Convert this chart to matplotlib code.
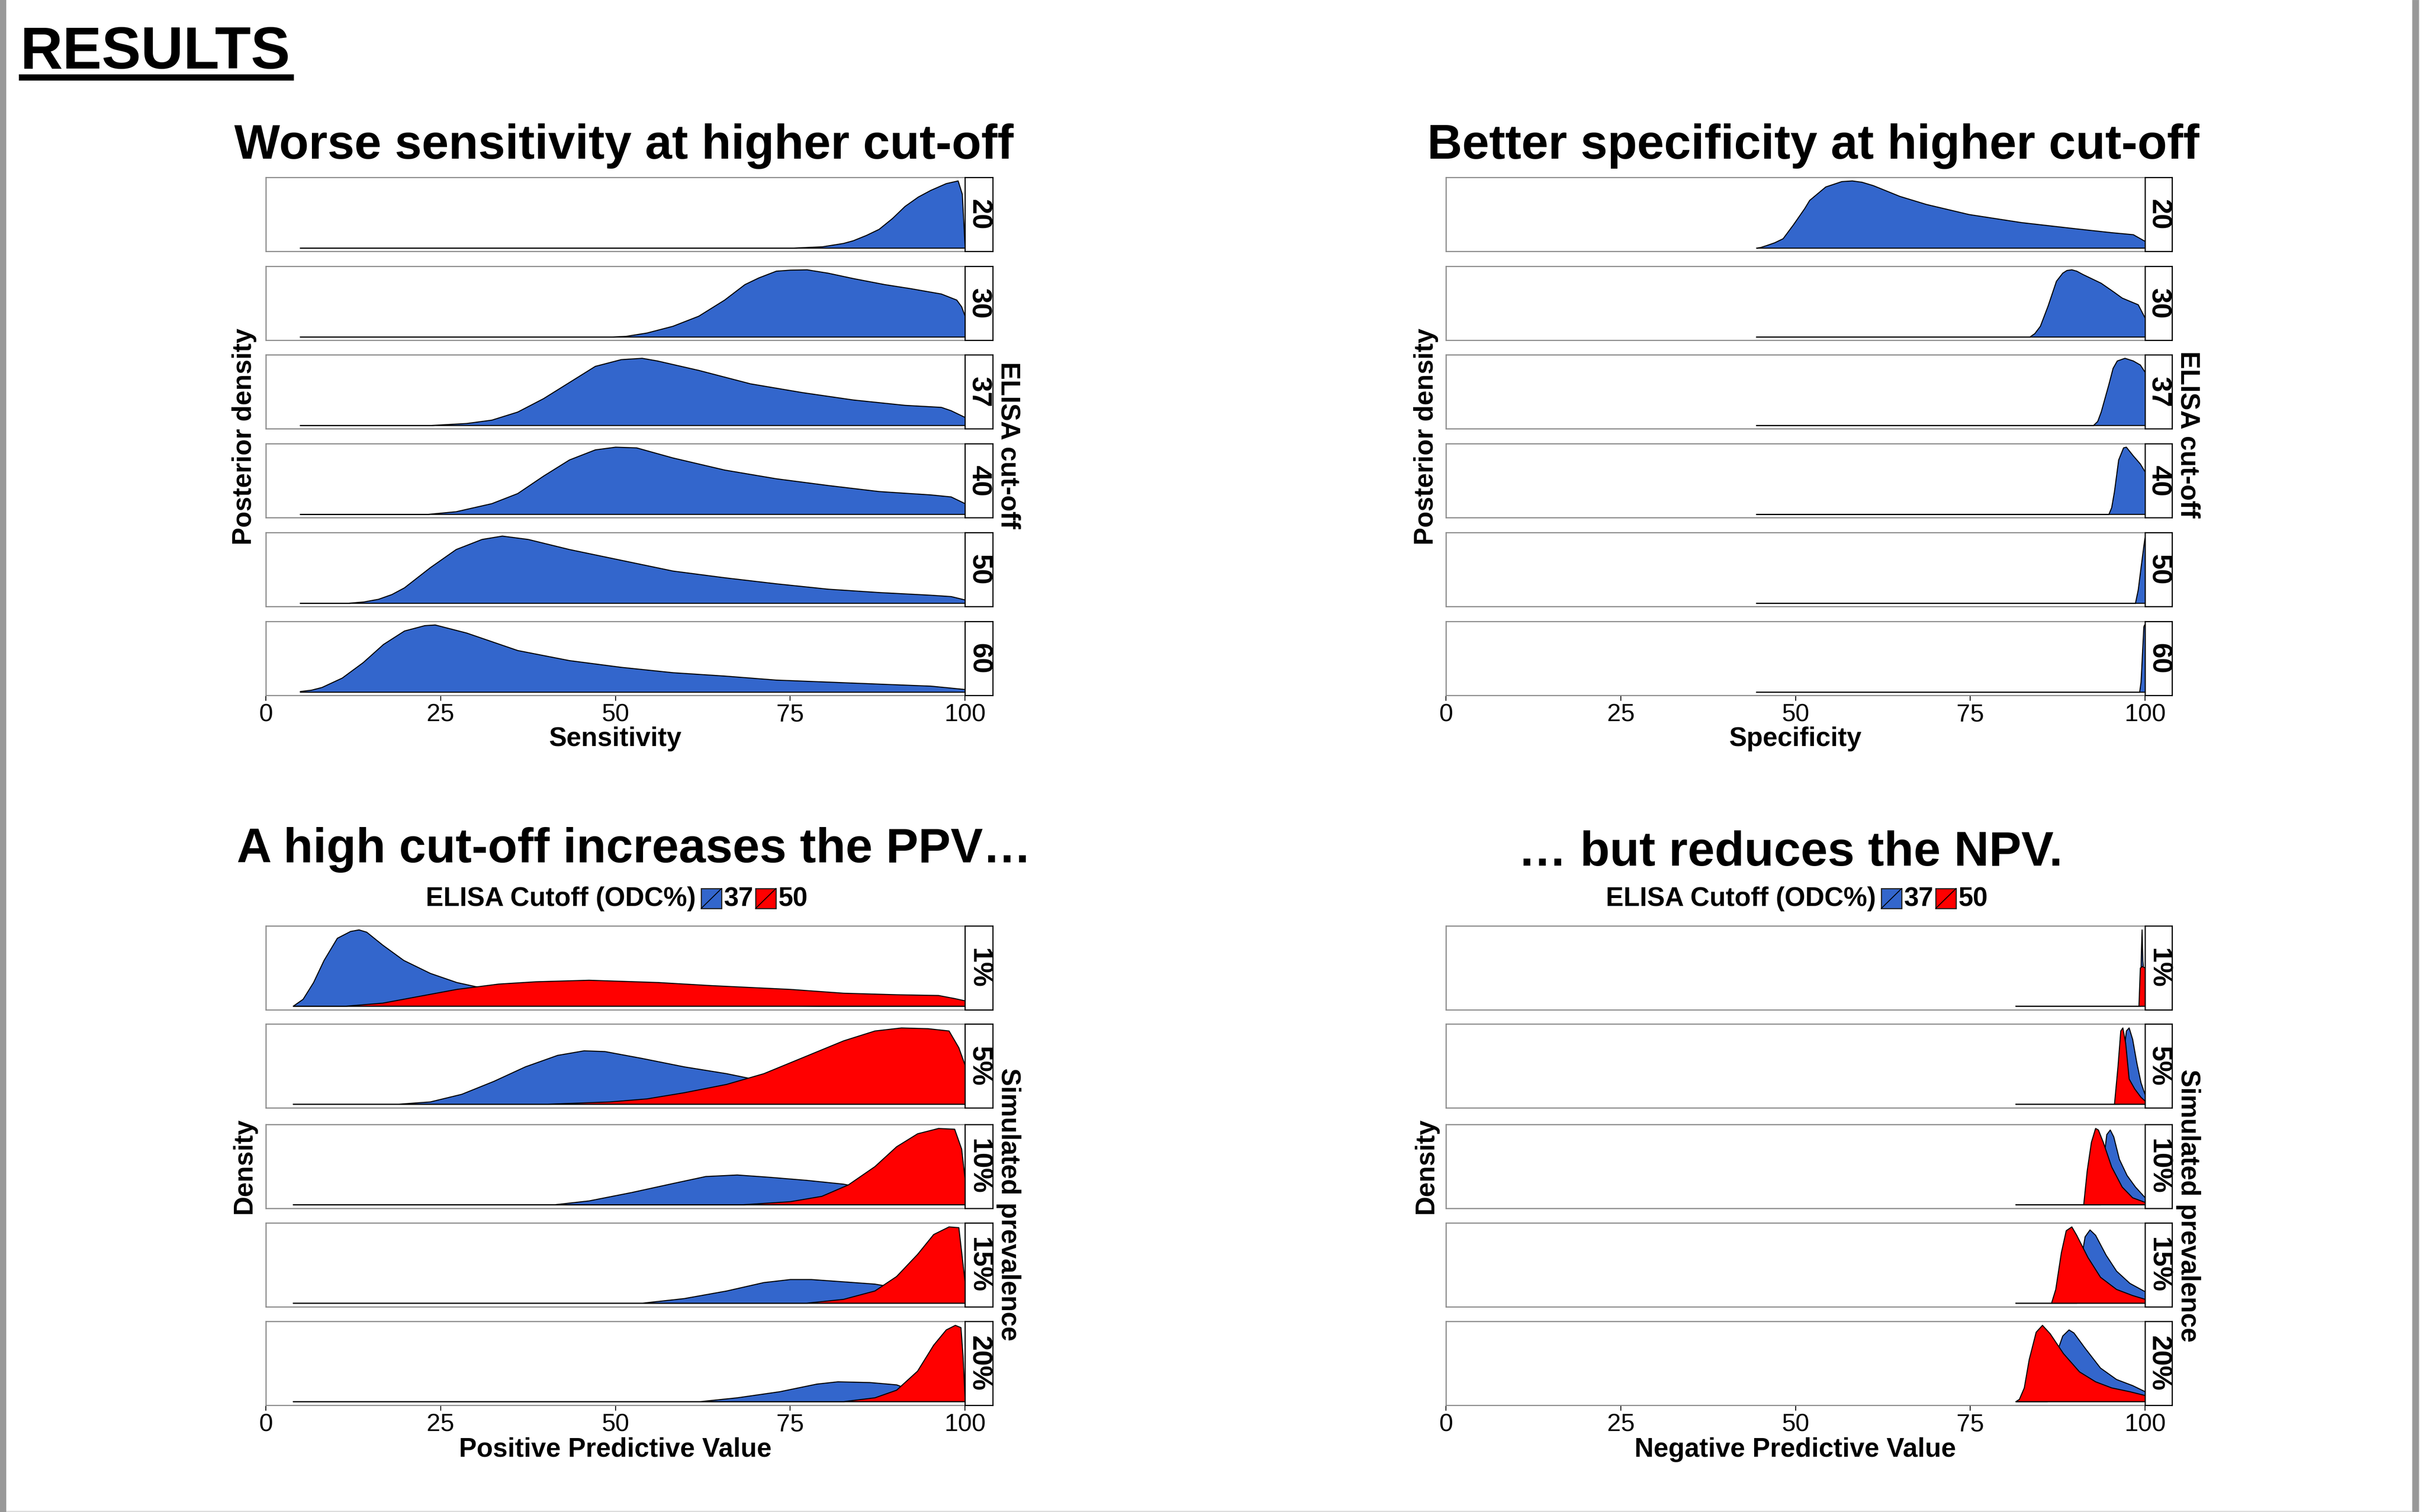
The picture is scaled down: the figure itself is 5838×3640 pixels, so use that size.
"""
Posterior / simulated density panels for ELISA cut-offs (sens, spec, PPV, NPV).
Recreated as one matplotlib figure, saved to out.png.
"""

import matplotlib
matplotlib.use('Agg')
import matplotlib.pyplot as plt
from matplotlib.patches import Rectangle
from matplotlib.lines import Line2D

plt.rcParams['font.family'] = ['Liberation Sans', 'DejaVu Sans']

W, H = 5838, 3641
DPI = 200

BLUE = '#3366CC'
RED = '#FF0000'
PANEL_EDGE = '#8C8C8C'

cutoffs = ['20', '30', '37', '40', '50', '60']
prevalences = ['1%', '5%', '10%', '15%', '20%']
x_ticks = [0, 25, 50, 75, 100]
legend_labels = ['37', '50']

# --- sensitivity posterior by cut-off: (value %, relative density)
sens_20 = [(4.9, 0), (75.2, 0), (79.6, 0.02), (82.6, 0.07), (84, 0.11), (85.9, 0.19), (87.7, 0.28),
           (89.6, 0.44), (91.4, 0.62), (93.3, 0.76), (95.1, 0.86), (97.3, 0.96), (99, 1.0),
           (99.6, 0.8), (100, 0)]
sens_30 = [(4.9, 0), (49.3, 0), (51.5, 0.01), (54.5, 0.06), (58.2, 0.16), (61.9, 0.31), (65.6, 0.55),
           (68.5, 0.78), (70.5, 0.88), (73, 0.98), (75, 0.995), (77.4, 1.0), (80.4, 0.95), (84, 0.87),
           (88.5, 0.78), (92.2, 0.72), (96.6, 0.64), (98.8, 0.55), (99.5, 0.45), (100, 0.31)]
sens_37 = [(4.9, 0), (23.5, 0), (28.7, 0.03), (32.3, 0.08), (36, 0.2), (39.7, 0.4), (43.4, 0.64),
           (47.1, 0.88), (50.8, 0.98), (53.8, 1.0), (56, 0.96), (61.9, 0.82), (69.3, 0.62),
           (76.7, 0.49), (84, 0.38), (91.4, 0.3), (96.6, 0.27), (98, 0.22), (100, 0.12)]
sens_40 = [(4.9, 0), (23.1, 0), (27.2, 0.04), (32.3, 0.16), (36, 0.31), (39.7, 0.57), (43.4, 0.81),
           (47.1, 0.96), (50, 1.0), (53, 0.99), (58.2, 0.84), (65.6, 0.66), (73, 0.53), (80.4, 0.43),
           (87.7, 0.34), (95.1, 0.29), (98, 0.26), (100, 0.16)]
sens_50 = [(4.9, 0), (11.7, 0), (14, 0.02), (16.1, 0.06), (18, 0.13), (19.8, 0.23), (23.5, 0.53),
           (27.2, 0.8), (30.9, 0.95), (33.8, 1.0), (37.5, 0.95), (43.4, 0.8), (50.8, 0.64),
           (58.2, 0.48), (65.6, 0.38), (73, 0.29), (80.4, 0.21), (87.7, 0.16), (95.1, 0.12),
           (98, 0.1), (100, 0.05)]
sens_60 = [(4.9, 0.01), (6.5, 0.03), (8, 0.07), (10.9, 0.21), (13.9, 0.44), (16.8, 0.71), (19.8, 0.91),
           (22.7, 0.99), (24.2, 1.0), (28.7, 0.88), (36, 0.62), (43.4, 0.47), (50.8, 0.37),
           (58.2, 0.29), (65.6, 0.24), (73, 0.18), (80.4, 0.15), (87.7, 0.12), (95.1, 0.09),
           (100, 0.04)]

# --- specificity posterior by cut-off
spec_20 = [(44.4, 0), (45, 0.01), (45.9, 0.04), (47, 0.08), (48.2, 0.14), (49.7, 0.35), (51.3, 0.59),
           (52, 0.71), (54.3, 0.91), (56.6, 0.99), (58.1, 1.0), (59.5, 0.98), (61.1, 0.93),
           (64.9, 0.77), (68.7, 0.65), (74.8, 0.5), (82.3, 0.38), (89.9, 0.29), (95.2, 0.23),
           (98.3, 0.2), (100, 0.1)]
spec_30 = [(44.4, 0), (83.5, 0), (84.2, 0.05), (85, 0.16), (86.1, 0.46), (87.3, 0.83), (88.2, 0.95),
           (88.8, 0.99), (89.5, 1.0), (90.2, 0.98), (91.1, 0.93), (93.7, 0.8), (95.5, 0.67),
           (96.7, 0.58), (99, 0.48), (100, 0.28)]
spec_37 = [(44.4, 0), (92.6, 0), (93.2, 0.06), (93.7, 0.2), (94.8, 0.61), (95.4, 0.85), (96, 0.96),
           (97.1, 1.0), (98.3, 0.96), (99.3, 0.9), (100, 0.79)]
spec_40 = [(44.4, 0), (94.8, 0), (95.2, 0.1), (95.6, 0.34), (96.2, 0.81), (96.9, 0.99), (97.3, 1.0),
           (98.3, 0.87), (99.3, 0.75), (100, 0.63)]
spec_50 = [(44.4, 0), (98.6, 0), (99, 0.2), (99.4, 0.53), (99.8, 0.85), (100, 1.0)]
spec_60 = [(44.4, 0), (99.2, 0), (99.4, 0.15), (99.6, 0.56), (99.8, 0.97), (99.9, 1.0), (100, 0.98)]

# --- PPV by simulated prevalence, cut-off 37 (blue) and 50 (red)
ppv37_1 = [(3.9, 0), (5.3, 0.09), (6.8, 0.31), (8.3, 0.6), (10.2, 0.89), (12.1, 0.98), (13.3, 1.0),
           (14.4, 0.97), (16.7, 0.8), (19.7, 0.6), (23.5, 0.43), (27.3, 0.31), (30.3, 0.25),
           (34.1, 0.17), (38.6, 0.11), (44.7, 0.07), (52.3, 0.04), (59.8, 0.02), (67.4, 0.01),
           (80, 0), (100, 0)]
ppv50_1 = [(3.9, 0), (11.4, 0), (16.7, 0.04), (22, 0.13), (27.3, 0.22), (33.3, 0.29), (38.6, 0.32),
           (46.2, 0.34), (56.1, 0.31), (63.6, 0.27), (75, 0.22), (82.6, 0.17), (90.2, 0.15),
           (96.2, 0.14), (98.5, 0.1), (100, 0.07)]
ppv37_5 = [(3.9, 0), (18.9, 0), (23.5, 0.03), (28, 0.13), (32.6, 0.3), (37.1, 0.49), (41.7, 0.64),
           (45.5, 0.7), (48.5, 0.69), (53.8, 0.6), (59.8, 0.49), (65.9, 0.4), (71.2, 0.3),
           (76.5, 0.2), (82.6, 0.1), (88.6, 0.05), (93.9, 0.02), (100, 0)]
ppv50_5 = [(3.9, 0), (40.2, 0), (49.2, 0.03), (54.5, 0.07), (59.8, 0.15), (65.9, 0.26), (71.2, 0.4),
           (77.3, 0.63), (82.6, 0.83), (87.1, 0.96), (90.9, 1.0), (94.7, 0.99), (97.7, 0.96),
           (99.1, 0.74), (100, 0.51)]
ppv37_10 = [(3.9, 0), (41.3, 0), (46.2, 0.05), (52.3, 0.16), (58.3, 0.28), (62.9, 0.37), (67.4, 0.39),
            (72, 0.36), (77.3, 0.32), (82.6, 0.27), (88.6, 0.16), (93.9, 0.05), (100, 0)]
ppv50_10 = [(3.9, 0), (68.2, 0), (75, 0.04), (79.5, 0.11), (83.3, 0.26), (87.1, 0.5), (90.2, 0.76),
            (93.2, 0.93), (96.2, 1.0), (98.5, 0.99), (99.5, 0.73), (100, 0.33)]
ppv37_15 = [(3.9, 0), (53.8, 0), (59.8, 0.06), (65.9, 0.16), (71.2, 0.27), (75, 0.31), (78, 0.31),
            (82.6, 0.28), (87.1, 0.25), (89, 0.22), (91.7, 0.12), (96.2, 0.02), (100, 0)]
ppv50_15 = [(3.9, 0), (77.3, 0), (82.6, 0.05), (87.1, 0.16), (90.2, 0.35), (93.2, 0.64), (95.5, 0.9),
            (97.7, 1.0), (99.1, 0.99), (100, 0.27)]
ppv37_20 = [(3.9, 0), (62.1, 0), (67.4, 0.05), (73.5, 0.13), (78.8, 0.23), (81.8, 0.26), (86.4, 0.25),
            (90.2, 0.22), (93.2, 0.12), (97, 0.03), (100, 0)]
ppv50_20 = [(3.9, 0), (82.6, 0), (87.1, 0.05), (90.2, 0.15), (93.2, 0.4), (95.5, 0.74), (97.3, 0.94),
            (98.6, 1.0), (99.4, 0.97), (99.7, 0.6), (100, 0.02)]

# --- NPV by simulated prevalence
npv37_1 = [(81.5, 0), (99.3, 0), (99.45, 0.7), (99.55, 1.0), (99.65, 0.6), (99.8, 0.45), (100, 0.4)]
npv50_1 = [(81.5, 0), (99.1, 0), (99.3, 0.5), (99.6, 0.52), (100, 0.5)]
npv37_5 = [(81.5, 0), (96.3, 0), (96.8, 0.54), (97.3, 0.96), (97.7, 1.0), (98.2, 0.85), (98.8, 0.54),
           (99.4, 0.28), (100, 0.12)]
npv50_5 = [(81.5, 0), (95.6, 0), (96.1, 0.49), (96.5, 0.96), (96.8, 1.0), (97.2, 0.8), (97.7, 0.33),
           (98.5, 0.2), (99.4, 0.09), (100, 0.04)]
npv37_10 = [(81.5, 0), (93.6, 0), (94, 0.54), (94.5, 0.91), (95, 0.97), (95.5, 0.88), (96.3, 0.59),
            (97.4, 0.38), (98.6, 0.23), (100, 0.09)]
npv50_10 = [(81.5, 0), (91.2, 0), (91.7, 0.44), (92.3, 0.81), (92.9, 0.99), (93.3, 0.97), (94, 0.81),
            (95.2, 0.49), (96.7, 0.23), (98.2, 0.09), (100, 0.03)]
npv37_15 = [(81.5, 0), (90.2, 0), (90.8, 0.55), (91.4, 0.87), (92.1, 0.96), (92.9, 0.89), (94.4, 0.63),
            (95.9, 0.42), (97.8, 0.26), (100, 0.15)]
npv50_15 = [(81.5, 0), (86.6, 0), (87.2, 0.18), (88, 0.66), (88.7, 0.95), (89.5, 1.0), (90.2, 0.89),
            (91.8, 0.6), (93.6, 0.34), (95.9, 0.18), (98.2, 0.1), (100, 0.05)]
npv37_20 = [(81.5, 0), (86, 0), (87.2, 0.6), (88.2, 0.86), (89.1, 0.94), (89.8, 0.9), (91.4, 0.7),
            (93.6, 0.44), (95.9, 0.29), (98.2, 0.21), (100, 0.13)]
npv50_20 = [(81.5, 0), (82, 0.03), (82.7, 0.18), (83.4, 0.55), (84.4, 0.91), (85.3, 1.0), (86.4, 0.89),
            (88.3, 0.63), (90.6, 0.39), (92.9, 0.26), (95.2, 0.18), (97.8, 0.13), (100, 0.08)]


fig = plt.figure(figsize=(W / DPI, H / DPI), dpi=DPI)


def fig_rect(x0, y0, x1, y1):
    """Pixel box (top-left origin) -> figure fraction rect."""
    return [x0 / W, 1 - y1 / H, (x1 - x0) / W, (y1 - y0) / H]


def ftext(x, y, s, **kw):
    fig.text(x / W, 1 - y / H, s, **kw)


def draw_curve(ax, pts, color):
    xs = [p[0] for p in pts]
    ys = [p[1] for p in pts]
    ax.fill_between(xs, 0, ys, facecolor=color, edgecolor='black', linewidth=0.9)


def facet_column(left, right, strip_right, tops, height, panels, labels):
    for i, (curves, lab) in enumerate(zip(panels, labels)):
        top = tops[i]
        ax = fig.add_axes(fig_rect(left, top, right, top + height))
        for pts, col in curves:
            draw_curve(ax, pts, col)
        ymax = max(max(p[1] for p in pts) for pts, _ in curves)
        ax.set_ylim(-0.05 * ymax, 1.05 * ymax)
        ax.set_xlim(0, 100)
        ax.set_yticks([])
        for s in ax.spines.values():
            s.set_color(PANEL_EDGE)
            s.set_linewidth(1.0)
        if i < len(panels) - 1:
            ax.set_xticks([])
        else:
            ax.set_xticks(x_ticks)
            ax.tick_params(axis='x', length=4.5, width=0.8, labelsize=21.5, pad=2, color='black')

        sx = fig.add_axes(fig_rect(right, top, strip_right, top + height))
        sx.set_xticks([])
        sx.set_yticks([])
        for s in sx.spines.values():
            s.set_color('black')
            s.set_linewidth(1.0)
        sx.text(0.5, 0.5, lab, rotation=-90, ha='center', va='center', fontsize=24,
                fontweight='bold', transform=sx.transAxes)


def legend_row(x_text, y_center):
    ftext(x_text, y_center, 'ELISA Cutoff (ODC%)', fontsize=23, fontweight='bold',
          ha='left', va='center')
    boxes = [(x_text + 663, BLUE), (x_text + 794, RED)]
    for (bx, col), lab in zip(boxes, legend_labels):
        x0, x1 = bx, bx + 49
        y0, y1 = y_center - 24, y_center + 24
        fig.add_artist(Rectangle((x0 / W, 1 - y1 / H), (x1 - x0) / W, (y1 - y0) / H,
                                 transform=fig.transFigure, facecolor=col, edgecolor='#222222',
                                 linewidth=1.0))
        fig.add_artist(Line2D([x0 / W, x1 / W], [1 - y1 / H, 1 - y0 / H], transform=fig.transFigure,
                              color='black', linewidth=0.8))
        ftext(x1 + 5, y_center, lab, fontsize=23, fontweight='bold', ha='left', va='center')


# layout in pixels
L_LEFT, L_RIGHT, L_STRIP = 640, 2323, 2390
R_LEFT, R_RIGHT, R_STRIP = 3481, 5164, 5229
top_rows = [428, 642, 855, 1069, 1283, 1497]
top_h = 178
bot_rows = [2230, 2466, 2708, 2945, 3182]
bot_h = 202

sens_panels = [[(c, BLUE)] for c in [sens_20, sens_30, sens_37, sens_40, sens_50, sens_60]]
spec_panels = [[(c, BLUE)] for c in [spec_20, spec_30, spec_37, spec_40, spec_50, spec_60]]
ppv_panels = [[(b, BLUE), (r, RED)] for b, r in
              zip([ppv37_1, ppv37_5, ppv37_10, ppv37_15, ppv37_20],
                  [ppv50_1, ppv50_5, ppv50_10, ppv50_15, ppv50_20])]
npv_panels = [[(b, BLUE), (r, RED)] for b, r in
              zip([npv37_1, npv37_5, npv37_10, npv37_15, npv37_20],
                  [npv50_1, npv50_5, npv50_10, npv50_15, npv50_20])]

facet_column(L_LEFT, L_RIGHT, L_STRIP, top_rows, top_h, sens_panels, cutoffs)
facet_column(R_LEFT, R_RIGHT, R_STRIP, top_rows, top_h, spec_panels, cutoffs)
facet_column(L_LEFT, L_RIGHT, L_STRIP, bot_rows, bot_h, ppv_panels, prevalences)
facet_column(R_LEFT, R_RIGHT, R_STRIP, bot_rows, bot_h, npv_panels, prevalences)

# titles
ftext(48, 165, 'RESULTS', fontsize=51, fontweight='bold', ha='left', va='baseline')
fig.add_artist(Line2D([45 / W, 707 / W], [1 - 187 / H, 1 - 187 / H], transform=fig.transFigure,
                      color='black', linewidth=5.4, solid_capstyle='butt'))
ftext(1502, 382, 'Worse sensitivity at higher cut-off', fontsize=42, fontweight='bold',
      ha='center', va='baseline')
ftext(4365, 382, 'Better specificity at higher cut-off', fontsize=42, fontweight='bold',
      ha='center', va='baseline')
ftext(1526, 2076, 'A high cut-off increases the PPV\u2026', fontsize=42, fontweight='bold',
      ha='center', va='baseline')
ftext(4310, 2084, '\u2026 but reduces the NPV.', fontsize=42, fontweight='bold',
      ha='center', va='baseline')

legend_row(1025, 2164)
legend_row(3866, 2164)

# axis labels
lab = dict(fontsize=23, fontweight='bold', ha='center', va='center')
ftext(1481, 1779, 'Sensitivity', **lab)
ftext(4322, 1779, 'Specificity', **lab)
ftext(1481, 3490, 'Positive Predictive Value', **lab)
ftext(4322, 3490, 'Negative Predictive Value', **lab)
ftext(588, 1051, 'Posterior density', rotation=90, **lab)
ftext(3433, 1051, 'Posterior density', rotation=90, **lab)
ftext(588, 2807, 'Density', rotation=90, **lab)
ftext(3433, 2807, 'Density', rotation=90, **lab)
ftext(2428, 1072, 'ELISA cut-off', rotation=-90, **lab)
ftext(5268, 1046, 'ELISA cut-off', rotation=-90, **lab)
ftext(2428, 2900, 'Simulated prevalence', rotation=-90, **lab)
ftext(5268, 2903, 'Simulated prevalence', rotation=-90, **lab)

# page frame
fig.add_artist(Rectangle((0, 0), 15 / W, 1, transform=fig.transFigure, facecolor='#999999',
                         edgecolor='none'))
fig.add_artist(Rectangle((5807 / W, 0), 16 / W, 1, transform=fig.transFigure, facecolor='#999999',
                         edgecolor='#BBBBBB', linewidth=0.5))
fig.add_artist(Rectangle((15 / W, 0), 5792 / W, 3 / H, transform=fig.transFigure,
                         facecolor='#DDDDDD', edgecolor='none'))

fig.savefig('out.png', dpi=DPI)
